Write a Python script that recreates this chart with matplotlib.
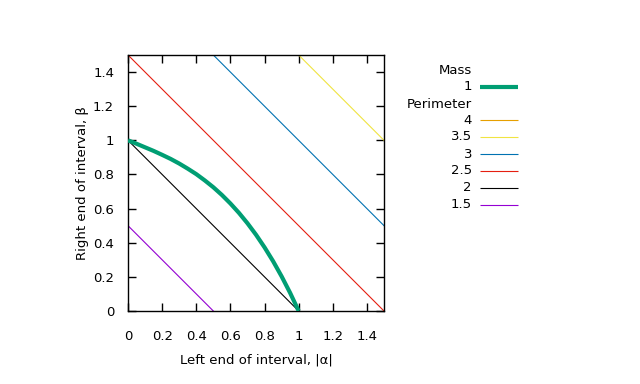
import matplotlib
matplotlib.use("Agg")
import matplotlib.pyplot as plt
from matplotlib.lines import Line2D

# Mass = 1 curve
mass_x = [0.0, 0.05, 0.10, 0.15, 0.20, 0.25, 0.30, 0.35, 0.40, 0.45, 0.50,
          0.55, 0.60, 0.65, 0.70, 0.75, 0.80, 0.85, 0.90, 0.95, 1.0]
mass_y = [1.0, 0.980, 0.959, 0.938, 0.915, 0.891, 0.864, 0.834, 0.802, 0.765, 0.725,
          0.680, 0.630, 0.575, 0.514, 0.447, 0.373, 0.292, 0.203, 0.106, 0.0]

# Perimeter levels: lines |alpha| + beta = perimeter - 1
perimeters = [4, 3.5, 3, 2.5, 2, 1.5]
perim_labels = ["4", "3.5", "3", "2.5", "2", "1.5"]
perim_colors = ["#e69f00", "#f0e442", "#0072b2", "#e51e10", "#000000", "#9400d3"]
mass_color = "#009e73"

xticks = [0, 0.2, 0.4, 0.6, 0.8, 1, 1.2, 1.4]
yticks = [0, 0.2, 0.4, 0.6, 0.8, 1, 1.2, 1.4]
tick_labels = ["0", "0.2", "0.4", "0.6", "0.8", "1", "1.2", "1.4"]

plt.rcParams['font.family'] = ['DejaVu Sans']
FS = 9.5
fig = plt.figure(figsize=(6.4, 3.84), dpi=100)
ax = fig.add_axes([128/640, 1 - 311/384, 256/640, 256/384])

xmin, xmax = 0.0, 1.5
for p, c in zip(perimeters, perim_colors):
    s = p - 1
    ax.plot([xmin, xmax], [s - xmin, s - xmax], color=c, lw=0.8, zorder=2)

ax.plot(mass_x, mass_y, color=mass_color, lw=3, zorder=3, solid_capstyle='butt')

ax.set_xlim(0, 1.5)
ax.set_ylim(0, 1.5)
ax.set_xticks(xticks)
ax.set_xticklabels(tick_labels)
ax.set_yticks(yticks)
ax.set_yticklabels(tick_labels)
ax.tick_params(direction='in', length=6, width=1, top=True, right=True,
               labelsize=FS, colors='black')
ax.tick_params(axis='x', pad=14)
ax.tick_params(axis='y', pad=10)
for sp in ax.spines.values():
    sp.set_linewidth(1)
ax.set_xlabel("Left end of interval, |α|", fontsize=FS)
ax.set_ylabel("Right end of interval, β", fontsize=FS)
ax.xaxis.set_label_coords(0.5, -0.165)
ax.yaxis.set_label_coords(-0.152, 0.5)

# Legend (manual, gnuplot style)
W, H = 640, 384
def fy(py):
    return 1 - py / H
tx = 472 / W
lx0, lx1 = 480 / W, 518 / W
rows = [("Mass", None, None), ("1", mass_color, 3)]
rows.append(("Perimeter", None, None))
for lab, c in zip(perim_labels, perim_colors):
    rows.append((lab, c, 0.8))
ys = [71, 87, 104, 120, 137, 154, 171, 188, 205]
for (lab, c, lw), py in zip(rows, ys):
    fig.text(tx, fy(py), lab, ha='right', va='center', fontsize=FS)
    if c is not None:
        fig.add_artist(Line2D([lx0, lx1], [fy(py), fy(py)], color=c, lw=lw,
                              transform=fig.transFigure, solid_capstyle='butt'))

fig.savefig("out.png", dpi=100)
